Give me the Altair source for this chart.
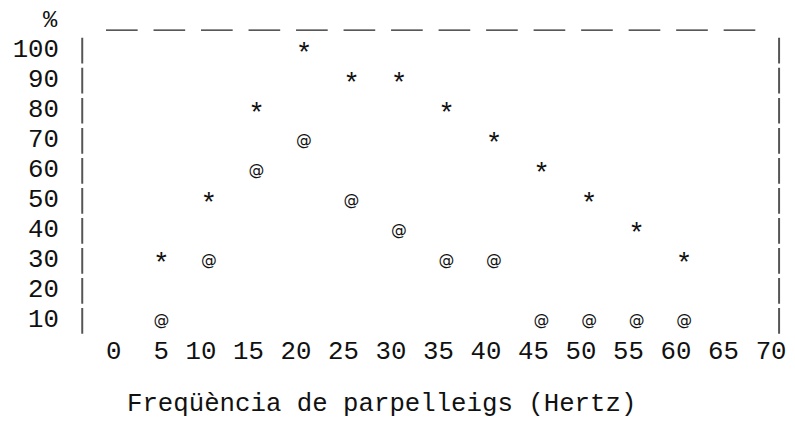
import altair as alt
import pandas as pd

# ---- data ----
freq = [5, 10, 15, 20, 25, 30, 35, 40, 45, 50, 55, 60]
series_star = [30, 50, 80, 100, 90, 90, 80, 70, 60, 50, 40, 30]
series_at = [10, 30, 60, 70, 50, 40, 30, 30, 10, 10, 10, 10]
x_ticks = [0, 5, 10, 15, 20, 25, 30, 35, 40, 45, 50, 55, 60, 65, 70]
y_ticks = [10, 20, 30, 40, 50, 60, 70, 80, 90, 100]
symbols = ["*", "@"]
x_title = "Freqüència de parpelleigs (Hertz)"
y_title = "%"

# ---- layout / style ----
W = 672
H = 303.3
FONT = "Liberation Mono"
TXT = "#111111"
LINE = "#555555"

df = pd.DataFrame({
    "freq": freq + freq,
    "pct": series_star + series_at,
    "sym": [symbols[0]] * len(freq) + [symbols[1]] * len(freq),
})
one = pd.DataFrame({"k": [0]})

xscale = alt.Scale(domain=[0, 70], nice=False, zero=False)
yscale = alt.Scale(domain=[5, 105], nice=False, zero=False)

xaxis = alt.Axis(
    values=x_ticks, labelAlign="right", labelOffset=7, labelBaseline="top",
    labelPadding=4, ticks=False, tickSize=0, domain=False, grid=False,
    labelFont=FONT, labelFontSize=26, labelColor=TXT, labelFlush=False,
    labelOverlap=False, labelSeparation=0, labelBound=False,
    title=x_title, titleFont=FONT, titleFontSize=26, titleFontWeight="normal",
    titleColor=TXT, titleX=270, titleY=77, titleAlign="center",
    titleBaseline="alphabetic",
)
yaxis = alt.Axis(
    values=y_ticks, labelAlign="right", labelBaseline="middle",
    labelPadding=56, ticks=False, tickSize=0, domain=False, grid=False,
    labelFont=FONT, labelFontSize=26, labelColor=TXT, labelFlush=False,
    labelOverlap=False, labelSeparation=0, labelBound=False,
    title=y_title, titleFont=FONT, titleFontSize=24, titleFontWeight="normal",
    titleColor=TXT, titleAngle=0, titleX=-65, titleY=-14, titleAlign="center",
    titleBaseline="middle",
)

base = alt.Chart(df)

stars = base.transform_filter(alt.datum.sym == symbols[0]).mark_text(
    font=FONT, fontSize=28, align="center", baseline="middle", dy=5, color=TXT
).encode(
    x=alt.X("freq:Q", scale=xscale, axis=xaxis),
    y=alt.Y("pct:Q", scale=yscale, axis=yaxis),
    text="sym:N",
)

ats = base.transform_filter(alt.datum.sym == symbols[1]).mark_text(
    font="DejaVu Sans", fontSize=16, align="center", baseline="middle", dy=1,
    color=TXT
).encode(
    x=alt.X("freq:Q", scale=xscale, axis=xaxis),
    y=alt.Y("pct:Q", scale=yscale, axis=yaxis),
    text="sym:N",
)

left_bar = alt.Chart(one).mark_rule(
    strokeDash=[26, 4.33], strokeWidth=2, color=LINE
).encode(x=alt.value(-32), y=alt.value(4.2), y2=alt.value(H))

right_bar = alt.Chart(one).mark_rule(
    strokeDash=[26, 4.33], strokeWidth=2, color=LINE
).encode(x=alt.value(W), y=alt.value(4.2), y2=alt.value(H))

top_dash = alt.Chart(one).mark_rule(
    strokeDash=[32, 16], strokeWidth=1.3, color="#222222"
).encode(x=alt.value(-8), x2=alt.value(648), y=alt.value(-3.5))

chart = alt.layer(stars, ats, left_bar, right_bar, top_dash).properties(
    width=W, height=H,
    autosize=alt.AutoSizeParams(type="none"),
    padding={"left": 107, "top": 23.8, "right": 8, "bottom": 92},
).configure(background="white", view=alt.ViewConfig(stroke="transparent", strokeWidth=0))

chart.save("out.html", embed_options={"renderer": "svg", "actions": False})
